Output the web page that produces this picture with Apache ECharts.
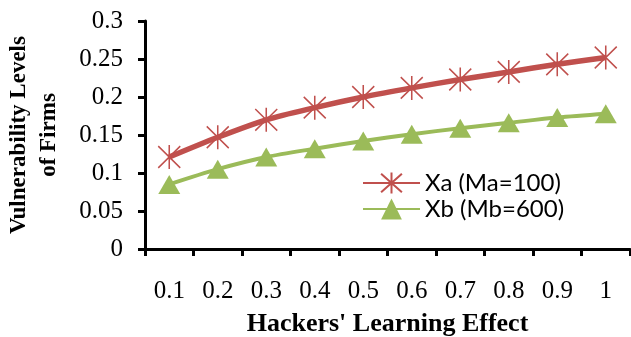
<!DOCTYPE html>
<html>
<head>
<meta charset="utf-8">
<script src="https://cdn.jsdelivr.net/npm/echarts@6/dist/echarts.min.js"></script>
<style>
  html, body { margin: 0; padding: 0; background: #fff; }
  #chart { width: 631px; height: 337px; }
</style>
</head>
<body>
<div id="chart"></div>
<script>
// Learning-effect levels on the horizontal axis
const categories = ['0.1', '0.2', '0.3', '0.4', '0.5', '0.6', '0.7', '0.8', '0.9', '1'];
// Vulnerability of firm A (Ma = 100)
const xaValues = [0.121, 0.147, 0.170, 0.186, 0.200, 0.212, 0.223, 0.233, 0.243, 0.252];
// Vulnerability of firm B (Mb = 600)
const xbValues = [0.085, 0.105, 0.121, 0.132, 0.142, 0.151, 0.159, 0.166, 0.173, 0.178];
const seriesNames = ['Xa (Ma=100)', 'Xb (Mb=600)'];

const RED = '#c0504d';
const GREEN = '#9bbb59';
const SERIF = '"Liberation Serif", "Times New Roman", serif';
const SANS = 'Lato, "Open Sans", sans-serif';

// Asterisk marker: vertical stroke plus two diagonals
const STAR = 'path://M10,0 L10,20 M1,1 L19,19 M19,1 L1,19';

const chart = echarts.init(document.getElementById('chart'), null, { renderer: 'canvas' });

chart.setOption({
  animation: false,
  grid: { left: 145, right: 1, top: 21, bottom: 88, containLabel: false, outerBoundsMode: 'none' },
  legend: {
    orient: 'vertical',
    left: 357,
    top: 166,
    itemWidth: 57,
    itemHeight: 26,
    itemGap: 2,
    textStyle: { fontFamily: SANS, fontSize: 24, color: '#000' },
    data: seriesNames
  },
  xAxis: {
    type: 'category',
    data: categories,
    boundaryGap: true,
    name: "Hackers' Learning Effect",
    nameLocation: 'middle',
    nameGap: 62,
    nameTextStyle: { fontFamily: SERIF, fontSize: 26, fontWeight: 'bold', color: '#000' },
    axisLine: { lineStyle: { color: '#000', width: 3 } },
    axisTick: { show: true, inside: false, length: 7, lineStyle: { color: '#000', width: 3 } },
    axisLabel: { fontFamily: SERIF, fontSize: 25, color: '#000', margin: 30 },
    splitLine: { show: false }
  },
  yAxis: {
    type: 'value',
    min: 0,
    max: 0.3,
    interval: 0.05,
    name: 'Vulnerability Levels\nof Firms',
    nameLocation: 'middle',
    nameRotate: 90,
    nameGap: 81,
    nameTextStyle: { fontFamily: SERIF, fontSize: 23, fontWeight: 'bold', color: '#000', lineHeight: 30 },
    axisLine: { show: true, lineStyle: { color: '#000', width: 3 } },
    axisTick: { show: true, inside: false, length: 7, lineStyle: { color: '#000', width: 3 } },
    axisLabel: { fontFamily: SERIF, fontSize: 25, color: '#000', margin: 22 },
    splitLine: { show: false }
  },
  series: [
    {
      name: seriesNames[0],
      type: 'line',
      data: xaValues,
      smooth: 0.3,
      symbol: STAR,
      symbolSize: [22, 24],
      lineStyle: { color: RED, width: 5.5 },
      itemStyle: { color: RED, borderColor: RED, borderWidth: 1.6 },
      z: 3
    },
    {
      name: seriesNames[1],
      type: 'line',
      data: xbValues,
      smooth: 0.3,
      symbol: 'triangle',
      symbolSize: [22, 19],
      lineStyle: { color: GREEN, width: 4 },
      itemStyle: { color: GREEN },
      z: 2
    }
  ]
});
</script>
</body>
</html>
